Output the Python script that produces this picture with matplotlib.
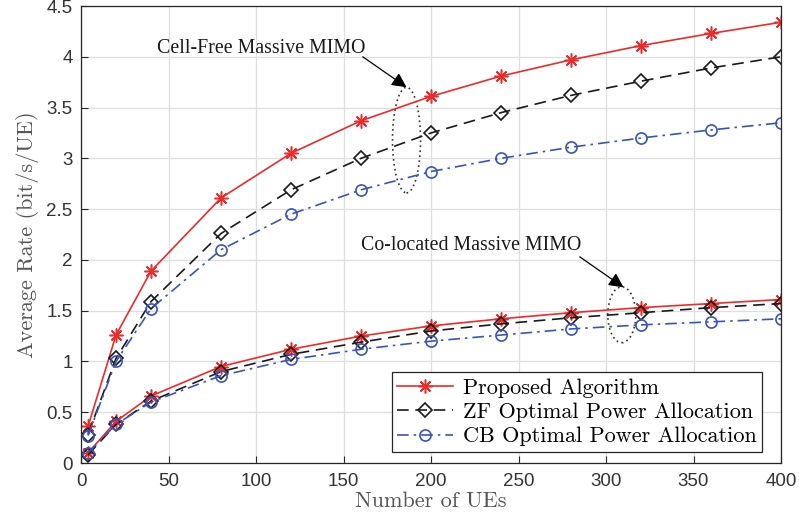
import matplotlib.pyplot as plt
from matplotlib.patches import Ellipse

# Number of UEs
num_ues = [4, 20, 40, 80, 120, 160, 200, 240, 280, 320, 360, 400]

# Cell-free massive MIMO
cf_proposed = [0.36, 1.26, 1.89, 2.61, 3.05, 3.37, 3.61, 3.81, 3.97, 4.11, 4.23, 4.34]
cf_zf = [0.28, 1.03, 1.59, 2.26, 2.69, 3.00, 3.25, 3.45, 3.62, 3.76, 3.89, 4.00]
cf_cb = [0.27, 1.00, 1.52, 2.10, 2.45, 2.69, 2.87, 3.00, 3.11, 3.20, 3.28, 3.35]

# Co-located massive MIMO
co_proposed = [0.10, 0.41, 0.66, 0.95, 1.12, 1.25, 1.35, 1.42, 1.48, 1.53, 1.57, 1.61]
co_zf = [0.08, 0.38, 0.61, 0.90, 1.07, 1.19, 1.30, 1.37, 1.43, 1.48, 1.53, 1.57]
co_cb = [0.10, 0.38, 0.60, 0.86, 1.02, 1.12, 1.20, 1.26, 1.32, 1.36, 1.39, 1.42]

legend_labels = ["Proposed Algorithm", "ZF Optimal Power Allocation",
                 "CB Optimal Power Allocation"]

red = "#ee2a2a"
blue = "#3a55b4"
cm = "cmr10"
times = "Liberation Serif"
sans = "Liberation Sans"


def note(ax, text, xy_text, xy_from, xy_tip):
    ax.text(*xy_text, text, family=times, fontsize=14.3, ha="center", va="center",
            color="#1a1a1a")
    ax.annotate("", xy=xy_tip, xytext=xy_from,
                arrowprops=dict(arrowstyle="-|>", color="black", lw=0.9,
                                mutation_scale=22, shrinkA=0, shrinkB=0))


def main():
    fig = plt.figure(figsize=(7.99, 5.22), dpi=100)
    ax = fig.add_axes([0.1014, 0.113, 0.8761, 0.8755])

    styles = [
        dict(color=red, ls="-", marker=(8, 2, 0), ms=10, mew=1.1, lw=1.2),
        dict(color="#1a1a1a", ls=(0, (7, 4)), marker="D", ms=7, mfc="none", mew=1.2, lw=1.2),
        dict(color=blue, ls=(0, (7, 3, 1.5, 3)), marker="o", ms=8, mfc="none", mew=1.2, lw=1.2),
    ]

    handles = []
    for data, st, lab in zip([cf_proposed, cf_zf, cf_cb], styles, legend_labels):
        h, = ax.plot(num_ues, data, label=lab, **st)
        handles.append(h)
    for data, st in zip([co_proposed, co_zf, co_cb], styles):
        ax.plot(num_ues, data, **st)

    ax.set_xlim(0, 400)
    ax.set_ylim(0, 4.5)
    ax.set_xticks(range(0, 401, 50))
    ax.set_yticks([0, 0.5, 1, 1.5, 2, 2.5, 3, 3.5, 4, 4.5])
    ax.set_yticklabels(["0", "0.5", "1", "1.5", "2", "2.5", "3", "3.5", "4", "4.5"])
    ax.grid(True, color="#dedede", lw=0.9)
    ax.set_axisbelow(True)
    ax.tick_params(direction="in", length=5, labelsize=13.5, colors="#262626",
                   labelcolor="#333333")
    ax.tick_params(axis="x", pad=7)
    ax.tick_params(axis="y", pad=6)
    for lbl in ax.get_xticklabels() + ax.get_yticklabels():
        lbl.set_family(sans)
    for sp in ax.spines.values():
        sp.set_color("#262626")
        sp.set_linewidth(0.9)

    ax.set_xlabel("Number of UEs", family=cm, fontsize=16, color="#555555", labelpad=1)
    ax.set_ylabel("Average Rate (bit/s/UE)", family=cm, fontsize=16, color="#555555",
                  labelpad=5)

    # Dotted ellipses marking each group of curves
    ax.add_patch(Ellipse((186, 3.18), 16, 1.04, fill=False, ls=(0, (1, 2)),
                         color="#333333", lw=1.2))
    ax.add_patch(Ellipse((309, 1.46), 16, 0.55, fill=False, ls=(0, (1, 2)),
                         color="#333333", lw=1.2))
    note(ax, "Cell-Free Massive MIMO", (103, 4.08), (161, 4.0), (186, 3.70))
    note(ax, "Co-located Massive MIMO", (223, 2.14), (285, 2.03), (310, 1.73))

    leg = ax.legend(handles=handles, loc="lower right", bbox_to_anchor=(0.973, 0.024),
                    prop=dict(family=cm, size=16), fancybox=False, framealpha=1,
                    edgecolor="#262626", handlelength=2.5, borderpad=0.25,
                    labelspacing=0.22, handletextpad=0.45, borderaxespad=0)
    leg.get_frame().set_linewidth(0.9)

    fig.savefig("out.png", dpi=100)


if __name__ == "__main__":
    main()
